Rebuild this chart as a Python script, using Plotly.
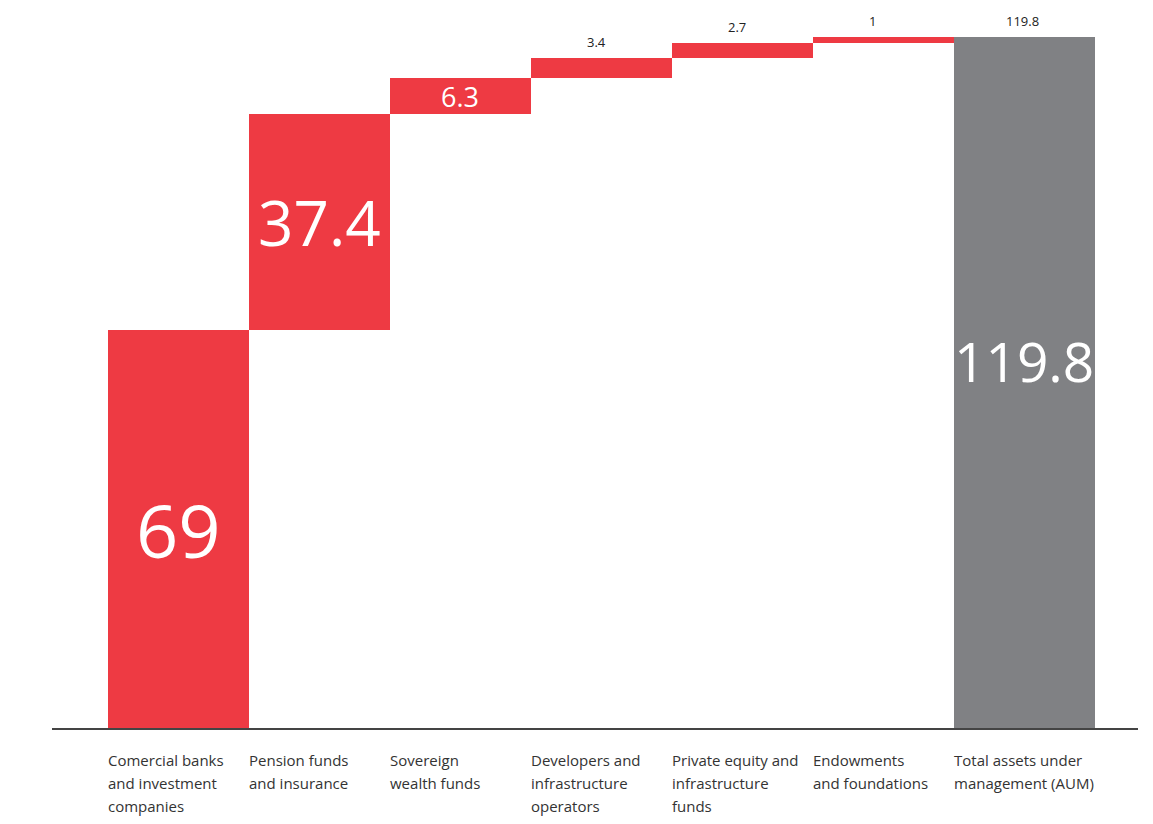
import plotly.graph_objects as go
import numpy as np

categories = ["Comercial banks and investment companies", "Pension funds and insurance",
              "Sovereign wealth funds", "Developers and infrastructure operators",
              "Private equity and infrastructure funds", "Endowments and foundations",
              "Total assets under management (AUM)"]
label_lines = [["Comercial banks", "and investment", "companies"],
               ["Pension funds", "and insurance"],
               ["Sovereign", "wealth funds"],
               ["Developers and", "infrastructure", "operators"],
               ["Private equity and", "infrastructure", "funds"],
               ["Endowments", "and foundations"],
               ["Total assets under", "management (AUM)"]]
values = [69, 37.4, 6.3, 3.4, 2.7, 1, 119.8]
measures = ["relative"] * 6 + ["total"]
value_text = ["69", "37.4", "6.3", "3.4", "2.7", "1", "119.8"]

RED = "#EE3A43"
GRAY = "#808184"
FONT = "Open Sans, sans-serif"

fig = go.Figure(go.Waterfall(
    x=categories, y=values, measure=measures,
    increasing=dict(marker=dict(color=RED, line=dict(width=0))),
    totals=dict(marker=dict(color=GRAY, line=dict(width=0))),
    connector=dict(visible=False),
    hoverinfo="skip", textinfo="none",
))

tops = np.cumsum(values[:6]).tolist() + [values[6]]
bottoms = [0] + tops[:5] + [0]

anns = []
# inside labels
inside = {0: (74, 0), 1: (62, 0), 2: (27, 0), 6: (55, 22)}
for i, (sz, ys) in inside.items():
    anns.append(dict(x=i, y=(tops[i] + bottoms[i]) / 2, xref="x", yref="y", yshift=ys,
                     text=value_text[i], showarrow=False,
                     font=dict(family=FONT, size=sz, color="white")))
# labels above
above_shift = {3: -5, 4: -5, 5: -11, 6: -2}
for i, xs in above_shift.items():
    anns.append(dict(x=i, y=tops[i], xref="x", yref="y", yanchor="bottom",
                     yshift=5, xshift=xs,
                     text=value_text[i], showarrow=False,
                     font=dict(family=FONT, size=13, color="#222222")))
# category labels
for i, lines in enumerate(label_lines):
    for k, ln in enumerate(lines):
        anns.append(dict(x=i - 0.5, y=0, xref="x", yref="paper", xanchor="left",
                         yanchor="middle", yshift=-(32 + 23 * k), xshift=-2, text=ln,
                         showarrow=False,
                         font=dict(family=FONT, size=15, color="#333333")))

fig.update_layout(
    width=1153, height=824,
    margin=dict(l=52, r=15, t=10, b=96),
    paper_bgcolor="white", plot_bgcolor="white",
    waterfallgap=0, showlegend=False,
    annotations=anns,
    xaxis=dict(range=[-0.897, 6.805], showticklabels=False, ticks="",
               showline=True, linecolor="#444444", linewidth=2,
               showgrid=False, zeroline=False, fixedrange=True),
    yaxis=dict(range=[0, 124.5], visible=False, showgrid=False, zeroline=False),
)

fig.write_html("out.html")
